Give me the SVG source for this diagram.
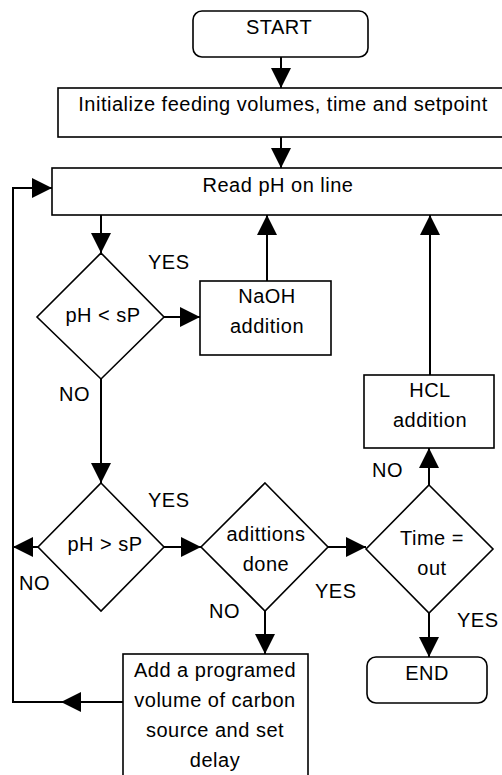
<svg xmlns="http://www.w3.org/2000/svg" width="502" height="775" viewBox="0 0 502 775">
<style>
.shape{fill:#fff;stroke:#000;stroke-width:1.6}
.conn{fill:none;stroke:#000;stroke-width:2}
text{font-family:"Liberation Sans",Arial,sans-serif;font-size:20px;letter-spacing:0.5px;fill:#000}
.c{text-anchor:middle}
</style>
<defs>
<marker id="arr" markerUnits="userSpaceOnUse" markerWidth="20" markerHeight="20" viewBox="0 0 20 20" refX="20" refY="10" orient="auto">
<path d="M0,0 L20,10 L0,20 Z" fill="#000"/>
</marker>
</defs>
<rect width="502" height="775" fill="#fff"/>
<g id="connectors">
<line class="conn" x1="281" y1="57" x2="281" y2="88" marker-end="url(#arr)"/>
<line class="conn" x1="281" y1="137" x2="281" y2="168" marker-end="url(#arr)"/>
<line class="conn" x1="101" y1="215" x2="101" y2="253" marker-end="url(#arr)"/>
<line class="conn" x1="164" y1="317" x2="200" y2="317" marker-end="url(#arr)"/>
<line class="conn" x1="267" y1="281" x2="267" y2="215" marker-end="url(#arr)"/>
<line class="conn" x1="101" y1="379" x2="101" y2="483" marker-end="url(#arr)"/>
<line class="conn" x1="38" y1="547" x2="13" y2="547" marker-end="url(#arr)"/>
<line class="conn" x1="164" y1="547" x2="201" y2="547" marker-end="url(#arr)"/>
<line class="conn" x1="328" y1="547" x2="366" y2="547" marker-end="url(#arr)"/>
<line class="conn" x1="265" y1="611" x2="265" y2="654" marker-end="url(#arr)"/>
<line class="conn" x1="429" y1="613" x2="429" y2="657" marker-end="url(#arr)"/>
<line class="conn" x1="429" y1="485" x2="429" y2="448" marker-end="url(#arr)"/>
<line class="conn" x1="430" y1="375" x2="430" y2="215" marker-end="url(#arr)"/>
<line class="conn" x1="123" y1="702" x2="61" y2="702" marker-end="url(#arr)"/>
<polyline class="conn" points="62,702 13,702 13,188 52,188" marker-end="url(#arr)"/>
</g>
<g id="start">
<rect class="shape" x="193" y="11" width="175" height="46" rx="9"/>
<text class="c" x="279" y="34">START</text>
</g>
<g id="init">
<rect class="shape" x="58" y="88" width="460" height="49"/>
<text class="c" x="283" y="111">Initialize feeding volumes, time and setpoint</text>
</g>
<g id="read">
<rect class="shape" x="52" y="168" width="460" height="47"/>
<text class="c" x="278" y="192">Read pH on line</text>
</g>
<g id="d1">
<polygon class="shape" points="101,253 164,317 101,379 37,317"/>
<text class="c" x="103" y="322">pH &lt; sP</text>
</g>
<g id="naoh">
<rect class="shape" x="200" y="281" width="131" height="74"/>
<text class="c" x="267" y="303">NaOH</text>
<text class="c" x="267" y="333">addition</text>
</g>
<g id="hcl">
<rect class="shape" x="364" y="375" width="130" height="73"/>
<text class="c" x="430" y="397">HCL</text>
<text class="c" x="430" y="427">addition</text>
</g>
<g id="d2">
<polygon class="shape" points="101,483 164,547 101,611 38,547"/>
<text class="c" x="105" y="551">pH &gt; sP</text>
</g>
<g id="d3">
<polygon class="shape" points="265,483 328,547 265,611 201,547"/>
<text class="c" x="266" y="541">adittions</text>
<text class="c" x="266" y="571">done</text>
</g>
<g id="d4">
<polygon class="shape" points="429,485 493,549 429,613 366,549"/>
<text class="c" x="432" y="545">Time =</text>
<text class="c" x="432" y="575">out</text>
</g>
<g id="end">
<rect class="shape" x="367" y="657" width="120" height="46" rx="9"/>
<text class="c" x="427" y="680">END</text>
</g>
<g id="add">
<rect class="shape" x="123" y="654" width="185" height="130"/>
<text class="c" x="215" y="677">Add a programed</text>
<text class="c" x="215" y="707">volume of carbon</text>
<text class="c" x="215" y="737">source and set</text>
<text class="c" x="215" y="767">delay</text>
</g>
<g id="labels">
<text x="148" y="269">YES</text>
<text x="59" y="401">NO</text>
<text x="148" y="507">YES</text>
<text x="19" y="590">NO</text>
<text x="315" y="598">YES</text>
<text x="209" y="618">NO</text>
<text x="372" y="477">NO</text>
<text x="457" y="627">YES</text>
</g>
</svg>
